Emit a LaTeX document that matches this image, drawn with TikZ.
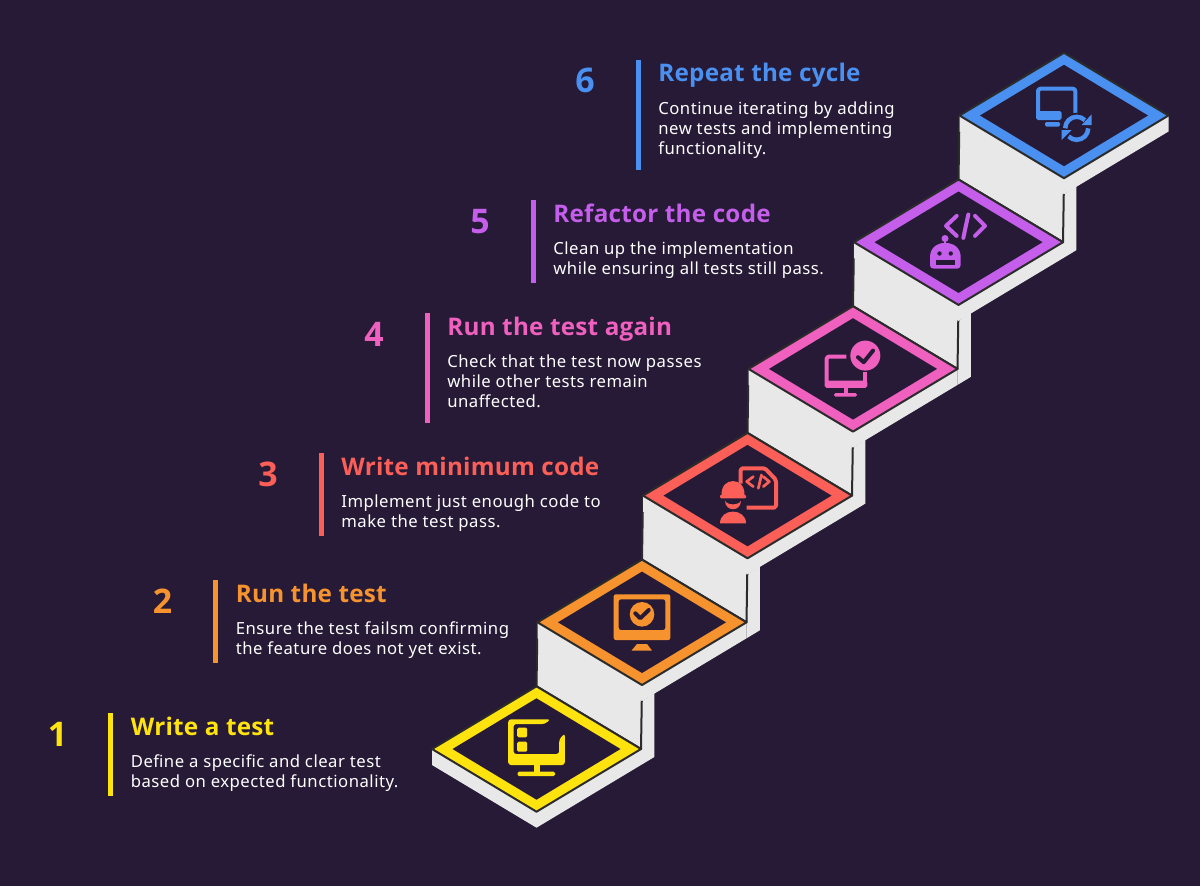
\documentclass[tikz,border=0pt]{standalone}
\usepackage{fontspec}
\setmainfont{Noto Sans}[LetterSpace=3]
\newfontfamily\headfont{Open Sans}[LetterSpace=1]
\usepackage{xcolor}
\definecolor{stepbg}{HTML}{261A36}
\definecolor{stepwall}{HTML}{E8E8E8}
\definecolor{stepedge}{HTML}{2B2B2B}
\definecolor{stepyellow}{HTML}{FFE30F}
\definecolor{steporange}{HTML}{F7932F}
\definecolor{stepred}{HTML}{FB5F57}
\definecolor{steppink}{HTML}{F060BF}
\definecolor{steppurple}{HTML}{C45EEB}
\definecolor{stepblue}{HTML}{4A90F0}
\tikzset{
  numeral/.style={anchor=base,inner sep=0pt,font=\fontsize{19.3pt}{23pt}\headfont\bfseries},
  heading/.style={anchor=base west,inner sep=0pt,font=\fontsize{13.8pt}{16pt}\headfont\bfseries},
  blurb/.style={anchor=north west,inner sep=0pt,align=left,text=white,font=\fontsize{9.5pt}{11.38pt}\selectfont},
  steprule/.style={line width=1mm},
  wall/.style={fill=stepwall,draw=stepedge,line width=0.4mm,line join=round},
  codeline/.style={line width=0.8mm,line cap=round,line join=round},
  hole/.style={stepbg,line width=0.8mm,line cap=round,line join=round}
}
\newcommand{\stepinfo}[7]{
  \node[numeral,text=#5] (num#1) at ({#2-53},{#3+33}) {#1};
  \coordinate (ruletop#1) at (#2,#3);
  \coordinate (rulebot#1) at (#2,#4);
  \draw[steprule,#5] (ruletop#1) -- (rulebot#1);
  \node[heading,text=#5] (head#1) at ({#2+20},{#3+22}) {#6};
  \node[blurb] (text#1) at ({#2+20},{#3+40}) {\strut #7};
}
\newcommand{\iconwrite}{
  \fill[rounded corners=1.6pt] (14,-29.7) -- (-28.3,-29.7) -- (-28.3,16) -- (28.3,16) -- (28.3,-15.7) -- (22.7,-9.7) -- (22.7,5) -- (-23,5) -- (-23,-25) -- (8.3,-25) -- cycle;
  \fill[rounded corners=0.8pt] (-19.3,-21.3) rectangle (-9.3,-11.7) (-19.3,-7.3) rectangle (-9.3,2.7);
  \fill (-3,16) rectangle (3,24);
  \fill[rounded corners=0.8pt] (-19,22.7) rectangle (18.5,27);
}
\newcommand{\iconrun}{
  \fill[even odd rule,rounded corners=1.2pt] (-28.3,-28) rectangle (28.3,17.7) (-23.3,-23) rectangle (23.3,7.7);
  \fill (0,-8) circle (12.3);
  \draw[hole] (-6.7,-9) -- (-1.7,-4) -- (6.7,-12.3);
  \fill (-5,21.7) -- (5,21.7) -- (10,28.3) -- (-10.5,28.3) -- cycle;
}
\newcommand{\iconcode}{
  \draw[line width=0.8mm,line join=round,rounded corners=1pt] (-1,12) -- (28.5,12) -- (28.5,-15.7) -- (17.5,-27.3) -- (-6.8,-27.3) -- (-6.8,-12);
  \draw[codeline,line width=0.55mm] (5.8,-19) -- (-0.8,-14) -- (5.8,-9) (14,-20.7) -- (10.8,-7.3) (15.8,-19) -- (21.8,-14) -- (15.8,-9);
  \fill (-26,-0.7) .. controls (-26,-10) and (-21,-14.5) .. (-14.5,-14.5) .. controls (-8,-14.5) and (-3,-10) .. (-3,-0.7) -- cycle;
  \fill[rounded corners=0.6pt] (-27.5,-0.7) rectangle (-1.5,2.7);
  \fill (-22.5,5) .. controls (-22.5,16.5) and (-6.5,16.5) .. (-6.5,5) .. controls (-8.5,10) and (-20.5,10) .. (-22.5,5) -- cycle;
  \fill (-27.5,27.7) .. controls (-27.5,20) and (-21,16) .. (-14.5,16) .. controls (-8,16) and (-1.5,20) .. (-1.5,27.7) -- cycle;
}
\newcommand{\iconagain}{
  \draw[line width=0.8mm,line join=round,rounded corners=1pt] (-6.7,-12.3) -- (-26.3,-12.3) -- (-26.3,13) ;
  \fill[rounded corners=1pt] (-28.3,11.7) rectangle (14.3,19);
  \draw[line width=0.8mm] (12.3,3) -- (12.3,15);
  \fill (-9.3,19) rectangle (-5.3,25);
  \fill[rounded corners=0.8pt] (-19,24.3) rectangle (4,27.7);
  \fill (12.3,-13.3) circle (15);
  \draw[hole] (5,-11.7) -- (10.7,-6.7) -- (20,-18.3);
}
\newcommand{\iconrefactor}{
  \draw[line width=0.8mm,line cap=round,line join=round] (-1.8,-26.3) -- (-12.5,-16.3) -- (-1.8,-6.3) (9.8,-27.7) -- (4.8,-4.3) (16.5,-26.3) -- (26.5,-16.3) -- (16.5,-6.3);
  \fill (-13.5,-3.7) circle (3.5);
  \fill (-14.5,-3) rectangle (-12.5,2);
  \fill (-28.5,23) -- (-28.5,15) .. controls (-28.5,6) and (-22,0.7) .. (-13.2,0.7) .. controls (-4.5,0.7) and (2.2,6) .. (2.2,15) -- (2.2,23) .. controls (2.2,25.5) and (0,26.3) .. (-1,26.3) -- (-25,26.3) .. controls (-27,26.3) and (-28.5,25.5) .. (-28.5,23) -- cycle;
  \fill[stepbg] (-19,11.3) circle (2.2) (-7.8,11.3) circle (2.2);
  \fill[stepbg] (-22.5,18) rectangle (-3.5,23);
}
\newcommand{\iconrepeat}{
  \draw[line width=0.8mm,line join=round,rounded corners=1.4pt] (-26,2) -- (-26,-26.8) -- (11.3,-26.8) -- (11.3,2);
  \fill[rounded corners=1pt] (-28,-4.5) rectangle (-2.3,4.5);
  \fill[rounded corners=0.8pt] (-19,6.5) rectangle (-4,11);
  \fill[stepbg] (12.7,12.8) circle (15.5);
  \draw[line width=0.9mm] (1.2,12.8) arc[start angle=180,end angle=315,radius=11.5];
  \draw[line width=0.9mm] (24.2,12.8) arc[start angle=0,end angle=135,radius=11.5];
  \fill (27.7,-1.2) -- (27.7,9.5) -- (17.7,9.5) -- cycle;
  \fill (-2.3,14.5) -- (7.7,14.5) -- (-2.3,24.5) -- cycle;
}
\begin{document}
\begin{tikzpicture}[x=0.2mm,y=-0.2mm]
\useasboundingbox (0,0) rectangle (1200,886);
\fill[stepbg] (0,0) rectangle (1200,886);
\foreach \n in {1,...,6}{
  \begin{scope}[shift={({536.5+105.5*(\n-1)},{749-126.7*(\n-1)})}]
    \fill[stepwall] (-104.5,0) -- (-104.5,16) -- (0,78.7) -- (104.5,16) -- (104.5,0) -- cycle;
    \ifnum\n<6
      \fill[stepwall] (104.5,16) -- (117.8,8) -- (117.8,-56) -- (105.5,-48) -- (105.5,-64) -- (104.5,0) -- cycle;
      \filldraw[wall] (1,-126.7) -- (0,-62.7) -- (104.5,0) -- (105.5,-64) -- cycle;
    \fi
  \end{scope}
}
\foreach \n/\col in {1/stepyellow,2/steporange,3/stepred,4/steppink,5/steppurple,6/stepblue}{
  \begin{scope}[shift={({536.5+105.5*(\n-1)},{749-126.7*(\n-1)})}]
    \filldraw[fill=\col,draw=stepedge,line width=0.4mm,line join=round] (-104.5,0) -- (0,-62.7) -- (104.5,0) -- (0,62.7) -- cycle;
    \fill[stepbg] (-84,0) -- (0,-50.7) -- (84,0) -- (0,50.7) -- cycle;
  \end{scope}
}
\begin{scope}[shift={(536.5,749)},color=stepyellow]\iconwrite\end{scope}
\begin{scope}[shift={(642,622.3)},color=steporange]\iconrun\end{scope}
\begin{scope}[shift={(747.5,495.6)},color=stepred]\iconcode\end{scope}
\begin{scope}[shift={(853,368.9)},color=steppink]\iconagain\end{scope}
\begin{scope}[shift={(958.5,242.2)},color=steppurple]\iconrefactor\end{scope}
\begin{scope}[shift={(1064,115.5)},color=stepblue]\iconrepeat\end{scope}
\stepinfo{1}{110.5}{713}{796}{stepyellow}{Write a test}{Define a specific and clear test\\based on expected functionality.}
\stepinfo{2}{215.5}{580}{663}{steporange}{Run the test}{Ensure the test failsm confirming\\the feature does not yet exist.}
\stepinfo{3}{321}{453}{536}{stepred}{Write minimum code}{Implement just enough code to\\make the test pass.}
\stepinfo{4}{427}{313}{423}{steppink}{Run the test again}{Check that the test now passes\\while other tests remain\\unaffected.}
\stepinfo{5}{533}{200}{283}{steppurple}{Refactor the code}{Clean up the implementation\\while ensuring all tests still pass.}
\stepinfo{6}{638}{60}{170}{stepblue}{Repeat the cycle}{Continue iterating by adding\\new tests and implementing\\functionality.}
\end{tikzpicture}
\end{document}
